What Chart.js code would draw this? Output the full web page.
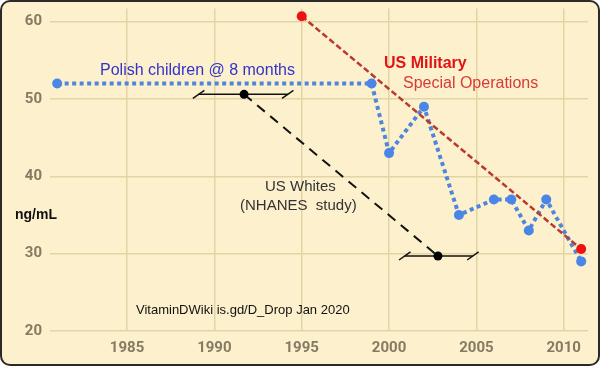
<!DOCTYPE html>
<html>
<head>
<meta charset="utf-8">
<script src="https://cdn.jsdelivr.net/npm/chart.js@4.4.1/dist/chart.umd.min.js"></script>
<style>
  body { margin: 0; background: #fff; }
  #wrap {
    position: relative; width: 600px; height: 366px; box-sizing: border-box;
    border: 2px solid #2a2a2a; border-radius: 10px; background: #fdf0cc;
  }
  #c { position: absolute; left: -2px; top: -2px; }
</style>
</head>
<body>
<div id="wrap"><canvas id="c" width="600" height="366"></canvas></div>
<script>
// tick labels
const xTicks = [1985, 1990, 1995, 2000, 2005, 2010];
const yTicks = [20, 30, 40, 50, 60];

// Polish children @ 8 months
const polishYears = [1981, 1999, 2000, 2002, 2004, 2006, 2007, 2008, 2009, 2011];
const polishLevels = [52, 52, 43, 49, 35, 37, 37, 33, 37, 29];

// US Military Special Operations
const militaryYears = [1995, 2011];
const militaryLevels = [60.7, 30.6];

// US Whites (NHANES study), with year ranges
const nhanesYears = [1991.7, 2002.8];
const nhanesLevels = [50.6, 29.7];
const nhanesLow = [1989.1, 2000.9];
const nhanesHigh = [1994.2, 2004.8];

const pts = (xs, ys) => xs.map((x, i) => ({x: x, y: ys[i]}));

const errorSets = nhanesYears.map((yr, i) => ({
  data: [{x: nhanesLow[i], y: nhanesLevels[i]}, {x: nhanesHigh[i], y: nhanesLevels[i]}],
  showLine: true,
  borderColor: '#111',
  borderWidth: 1.5,
  pointStyle: 'line',
  pointRadius: 7,
  pointRotation: -35,
  pointBorderColor: '#111',
  pointBorderWidth: 1.5,
  order: 3
}));

const notes = {
  id: 'notes',
  afterDraw(chart) {
    const c = chart.ctx;
    c.save();
    c.textBaseline = 'alphabetic';
    c.fillStyle = '#3333cc';
    c.font = '16px "Liberation Sans", Arial';
    c.fillText('Polish children @ 8 months', 100, 75);
    c.fillStyle = '#e01414';
    c.font = 'bold 16px "Liberation Sans", Arial';
    c.fillText('US Military', 384, 68);
    c.fillStyle = '#d83a36';
    c.font = '16px "Liberation Sans", Arial';
    c.fillText('Special Operations', 403, 88);
    c.fillStyle = '#333';
    c.font = '15px "Liberation Sans", Arial';
    c.fillText('US Whites', 265, 191);
    c.fillText('(NHANES  study)', 240, 210);
    c.fillStyle = '#111';
    c.font = 'bold 14px "Liberation Sans", Arial';
    c.fillText('ng/mL', 15, 219);
    c.font = '13px "Liberation Sans", Arial';
    c.fillText('VitaminDWiki is.gd/D_Drop Jan 2020', 136, 314);
    c.restore();
  }
};

const tickFont = {family: 'Roboto', size: 15, weight: 'bold'};

new Chart(document.getElementById('c'), {
  type: 'scatter',
  data: {
    datasets: [
      {
        data: pts(polishYears, polishLevels),
        showLine: true,
        borderColor: '#4f86dc',
        borderWidth: 4,
        borderDash: [4, 3.5],
        backgroundColor: '#4a86e8',
        pointRadius: 5,
        pointBorderWidth: 0,
        order: 2
      },
      {
        data: pts(militaryYears, militaryLevels),
        showLine: true,
        borderColor: '#b83a2e',
        borderWidth: 2.5,
        borderDash: [6, 3],
        backgroundColor: '#ee1111',
        pointRadius: 5,
        pointBorderWidth: 0,
        order: 1
      },
      {
        data: pts(nhanesYears, nhanesLevels),
        showLine: true,
        borderColor: '#111',
        borderWidth: 2,
        borderDash: [10, 7],
        backgroundColor: '#000',
        pointRadius: 4.5,
        pointBorderWidth: 0,
        order: 0
      },
      ...errorSets
    ]
  },
  options: {
    responsive: false,
    animation: false,
    clip: false,
    layout: {padding: {left: 0, right: 12, top: 2, bottom: 0}},
    plugins: {legend: {display: false}, tooltip: {enabled: false}},
    scales: {
      x: {
        type: 'linear',
        min: 1980.59,
        max: 2011.39,
        afterBuildTicks: s => { s.ticks = xTicks.map(v => ({value: v})); },
        afterFit: s => { s.height = 35; s.paddingLeft = 0; s.paddingRight = 0; },
        border: {display: false},
        grid: {color: '#e3d4a6', lineWidth: 1.5, drawTicks: false},
        ticks: {color: '#857b62', font: tickFont, padding: 8, callback: v => String(v)}
      },
      y: {
        min: 20,
        max: 61.7,
        afterBuildTicks: s => { s.ticks = yTicks.map(v => ({value: v})); },
        afterFit: s => { s.width = 50; s.paddingTop = 0; s.paddingBottom = 0; },
        border: {display: false},
        grid: {color: '#e3d4a6', lineWidth: 1.5, drawTicks: false},
        ticks: {color: '#857b62', font: tickFont, padding: 8}
      }
    }
  },
  plugins: [notes]
});
</script>
</body>
</html>
